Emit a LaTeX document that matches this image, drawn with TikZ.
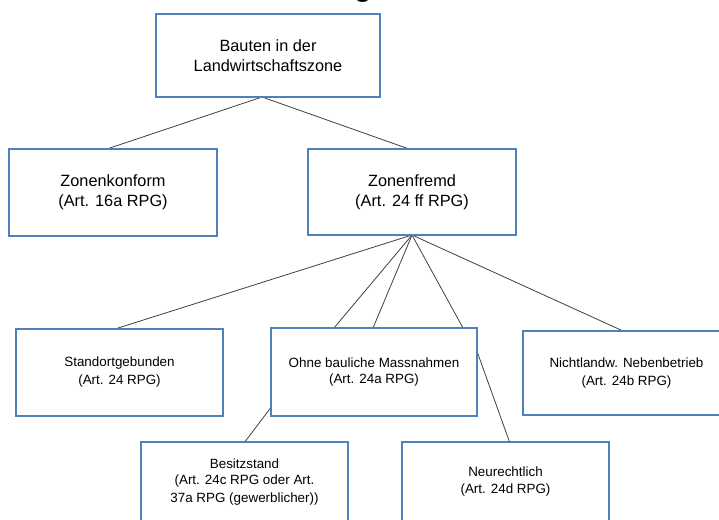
\documentclass[tikz,border=0pt]{standalone}
\usepackage{fontspec}
\setmainfont{Liberation Sans}
\definecolor{boxblue}{RGB}{79,129,189}
\definecolor{linegray}{RGB}{64,64,64}
\begin{document}
\begin{tikzpicture}[x=1pt,y=-1pt,
  box/.style={draw=boxblue, line width=1.4pt, fill=white, align=center, inner sep=0pt, text=black},
  bigbox/.style={box, font=\fontsize{16.3}{20}\selectfont},
  smallbox/.style={box, font=\fontsize{13.4}{17}\selectfont},
  conn/.style={draw=linegray, line width=0.8pt}]
\useasboundingbox (0,0) rectangle (719,519);
\clip (0,0) rectangle (719,519);
% cut-off title fragment
\node[anchor=base, font=\fontsize{28}{30}\bfseries\selectfont, inner sep=0pt] (title) at (363,-3.5) {g};
% connectors (behind boxes)
\coordinate (topj) at (262,97);
\coordinate (fan) at (412,235);
\draw[conn] (topj) -- (107,149) coordinate (zkj);
\draw[conn] (topj) -- (409,149) coordinate (zfj);
\draw[conn] (fan) -- (115,329) coordinate (stj);
\draw[conn] (fan) -- (334,328) coordinate (ohj1);
\draw[conn] (fan) -- (373,328) coordinate (ohj2);
\draw[conn] (fan) -- (463,328) coordinate (ohj3);
\draw[conn] (fan) -- (623,331) coordinate (nlj);
% boxes
\node[bigbox, minimum width=224, minimum height=83] (top) at (268,55.5) {Bauten in der\\Landwirtschaftszone};
\node[bigbox, minimum width=208, minimum height=87] (zk) at (113,192.5) {Zonenkonform\\(Art. 16a RPG)};
\node[bigbox, minimum width=208, minimum height=86] (zf) at (412,192) {Zonenfremd\\(Art. 24 ff RPG)};
\node[smallbox, minimum width=207, minimum height=87] (st) at (119.5,372.5) {Standortgebunden\\[1pt](Art. 24 RPG)};
\node[smallbox, minimum width=206, minimum height=88] (oh) at (374,372) {\raisebox{3pt}{\begin{tabular}{@{}c@{}}Ohne bauliche Massnahmen\\[-1pt](Art. 24a RPG)\end{tabular}}};
\node[smallbox, minimum width=207, minimum height=84] (nl) at (626.5,373) {\raisebox{5pt}{\begin{tabular}{@{}c@{}}Nichtlandw. Nebenbetrieb\\[1pt](Art. 24b RPG)\end{tabular}}};
\node[smallbox, minimum width=207, minimum height=80] (bs) at (244.5,482) {Besitzstand\\[-1pt](Art. 24c RPG oder Art.\\[1pt]37a RPG (gewerblicher))};
\node[smallbox, minimum width=207, minimum height=80] (nr) at (505.5,482) {Neurechtlich\\[0pt](Art. 24d RPG)};
% connectors from Ohne box
\draw[conn] ([yshift=-81]oh.north west) -- ([xshift=105]bs.north west);
\draw[conn] ([yshift=-26]oh.north east) -- ([xshift=108]nr.north west);
\end{tikzpicture}
\end{document}
